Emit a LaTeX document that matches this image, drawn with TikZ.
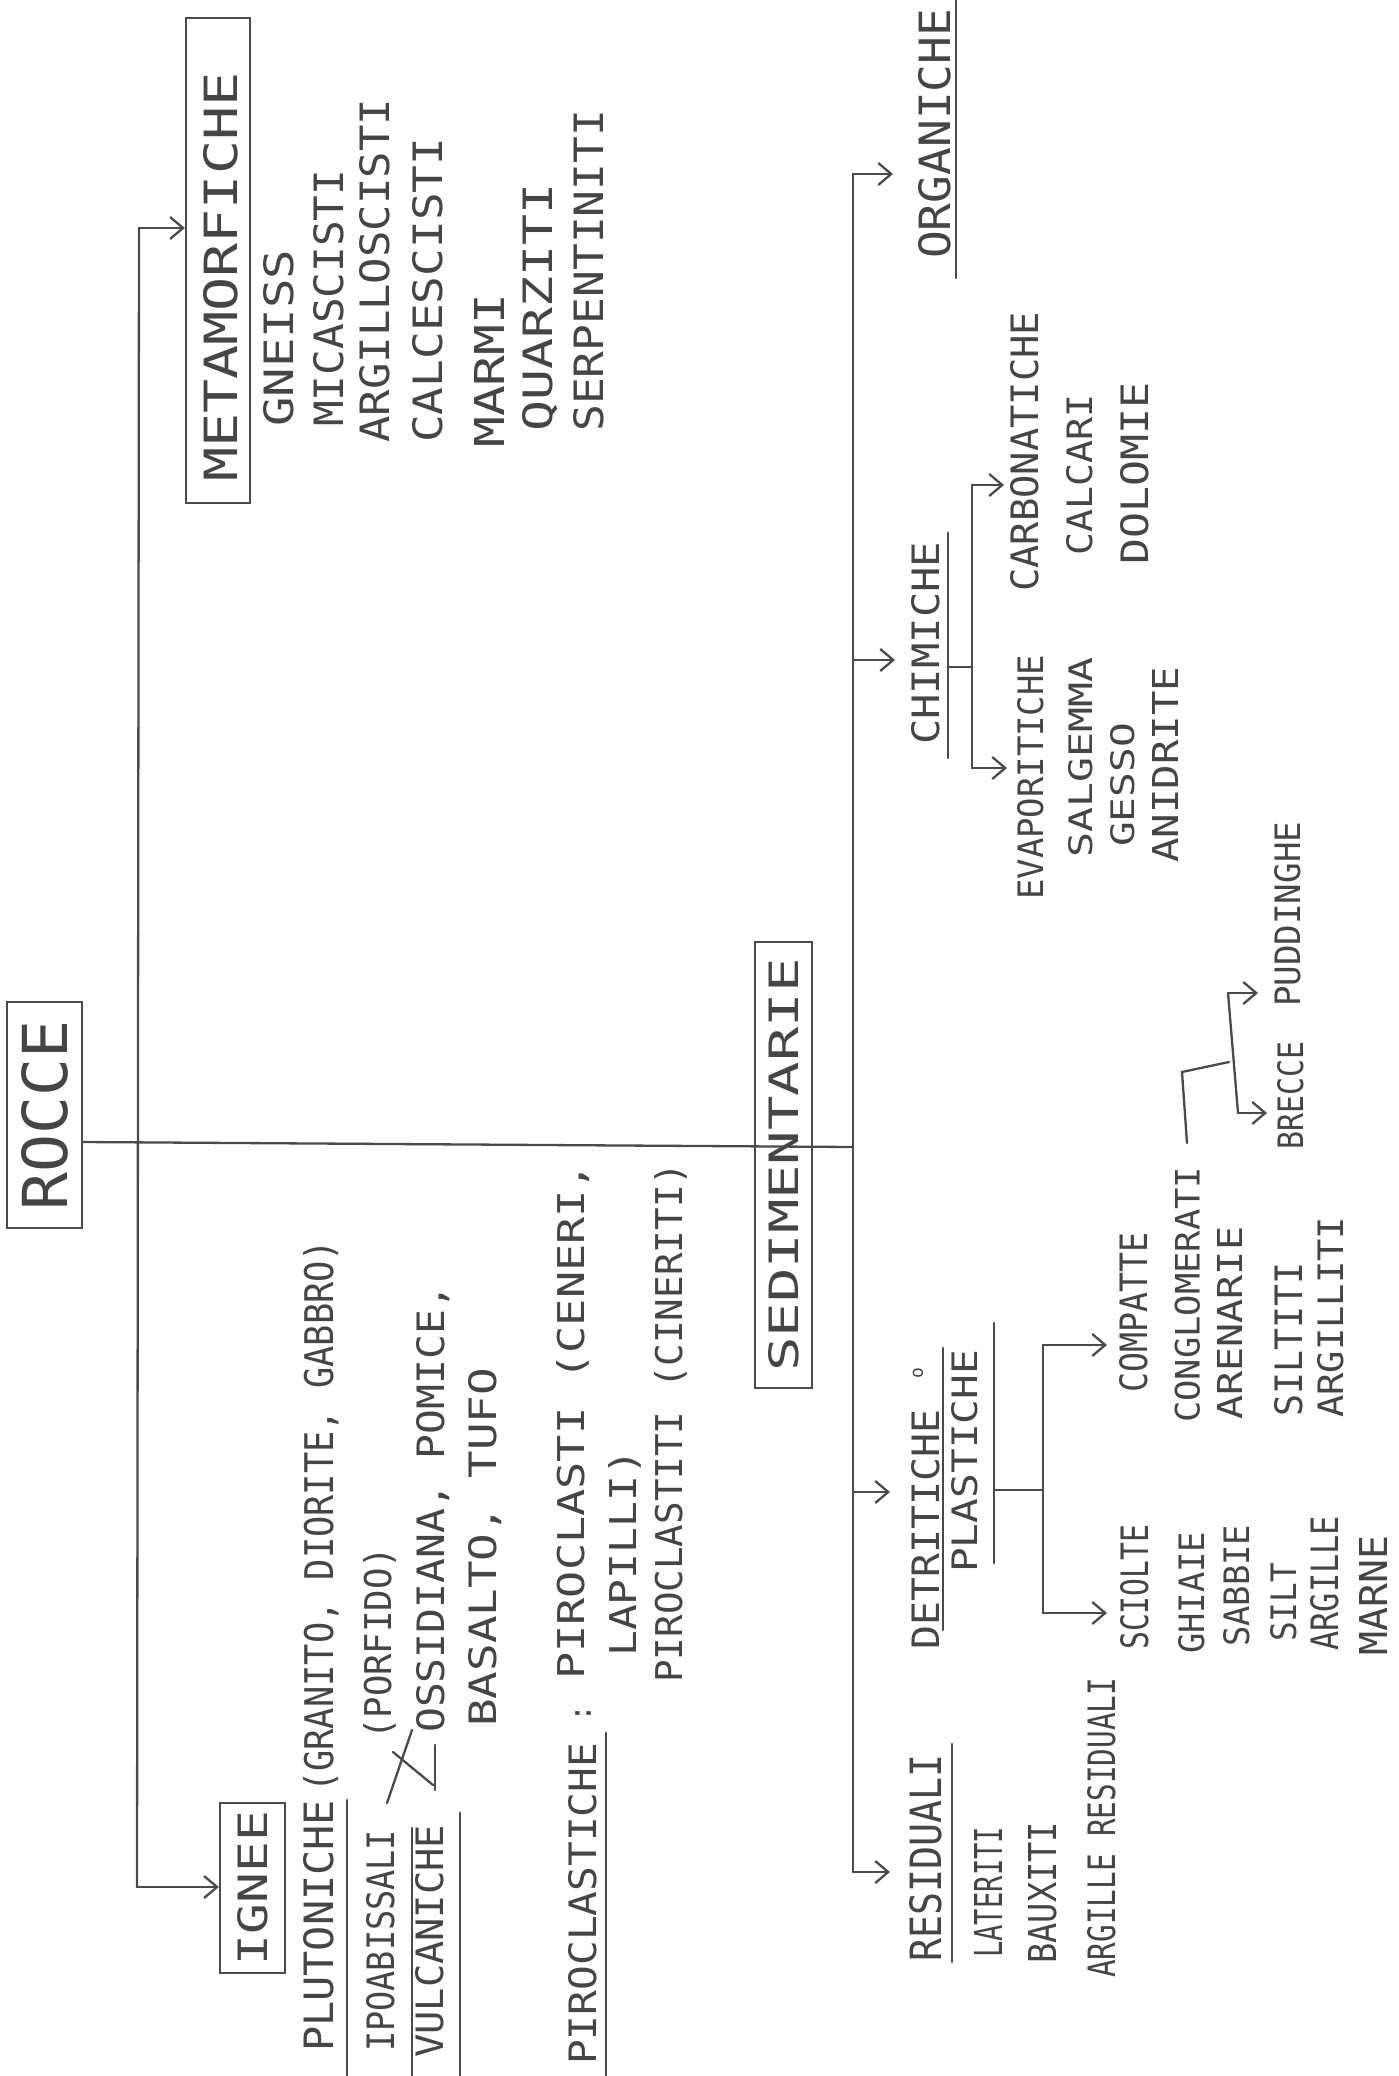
\documentclass[tikz,border=0pt]{standalone}
\usepackage{graphicx}
\usepackage{fontspec}
\setmainfont{DejaVu Sans Mono}
\usetikzlibrary{arrows.meta,calc}
\definecolor{pencil}{HTML}{4A4A4A}
\definecolor{lead}{HTML}{454545}
\newcommand{\hwt}[6]{\node[hw] (#1) at ({#2+#5/2},#3) {\resizebox{#4pt}{#5pt}{#6}};}
\begin{document}
\begin{tikzpicture}[x=1pt,y=-1pt,
 line/.style={draw=pencil,line width=2.3pt,line cap=round},
 arr/.style={line,-{Straight Barb[length=13pt,width=22pt]}},
 hw/.style={rotate=90,anchor=base west,inner sep=0pt,text=lead},
 boxst/.style={draw=pencil,line width=2.3pt,rotate=90,inner sep=0pt,text=lead}]
\useasboundingbox (0,0) rectangle (1399,2076);
\fill[white] (0,0) rectangle (1399,2076);

% ---- boxes
\node[boxst,minimum width=226pt,minimum height=75pt] (rocce) at (44.5,1115) {\resizebox{190pt}{46pt}{ROCCE}};
\node[boxst,minimum width=170pt,minimum height=65pt] (ignee) at (252.5,1888) {\resizebox{154pt}{30pt}{IGNEE}};
\node[boxst,minimum width=446pt,minimum height=57pt] (sedim) at (783.5,1165) {\resizebox{413pt}{30pt}{SEDIMENTARIE}};
\node[boxst,minimum width=485pt,minimum height=64pt] (metabox) at (218,260.5) {};

% ---- metamorfiche
\hwt{meta}{220}{482}{409}{34}{METAMORFICHE}
\hwt{gneiss}{278}{427}{177}{30}{GNEISS}
\hwt{mica}{328}{427}{257}{30}{MICASCISTI}
\hwt{argsc}{374}{443}{344}{30}{ARGILLOSCISTI}
\hwt{calc}{427}{443}{305}{30}{CALCESCISTI}
\hwt{marmi}{489}{448}{154}{30}{MARMI}
\hwt{quarz}{537}{432}{248}{30}{QUARZITI}
\hwt{serp}{588}{432}{322}{30}{SERPENTINITI}

% ---- ignee
\hwt{plut}{318}{2052}{252}{30}{PLUTONICHE}
\hwt{plutex}{318}{1793}{553}{30}{(GRANITO, DIORITE, GABBRO)}
\hwt{ipo}{380}{2052}{222}{28}{IPOABISSALI}
\hwt{porf}{377}{1740}{193}{28}{(PORFIDO)}
\hwt{ossi}{430}{1733}{448}{28}{OSSIDIANA, POMICE,}
\hwt{basa}{482}{1727}{359}{28}{BASALTO, TUFO}
\hwt{vulc}{429}{2058}{233}{28}{VULCANICHE}
\hwt{piro}{582}{2065}{322}{28}{PIROCLASTICHE}
\node[rotate=90,text=lead,inner sep=0pt,font=\fontsize{30}{30}\selectfont] (colon) at (583,1713) {:};
\hwt{pra}{570}{1680}{517}{28}{PIROCLASTI (CENERI,}
\hwt{prb}{622}{1657}{207}{28}{LAPILLI)}
\hwt{prc}{668}{1683}{520}{28}{PIROCLASTITI (CINERITI)}

% ---- sedimentarie
\hwt{org}{934}{259}{250}{32}{ORGANICHE}
\hwt{chim}{925}{745}{203}{28}{CHIMICHE}
\hwt{evap}{1030}{900}{245}{26}{EVAPORITICHE}
\hwt{salg}{1080}{858}{200}{24}{SALGEMMA}
\hwt{gess}{1122}{847}{124}{24}{GESSO}
\hwt{anid}{1165}{863}{196}{26}{ANIDRITE}
\hwt{carb}{1024}{592}{280}{28}{CARBONATICHE}
\hwt{calca}{1079}{556}{161}{26}{CALCARI}
\hwt{dolo}{1134}{565}{182}{28}{DOLOMIE}
\hwt{detr}{925}{1650}{240}{28}{DETRITICHE}
\node[rotate=90,text=lead,inner sep=0pt,font=\fontsize{18}{18}\selectfont] (oconj) at (918,1373) {o};
\hwt{plas}{964}{1573}{223}{26}{PLASTICHE}
\hwt{comp}{1133}{1393}{160}{28}{COMPATTE}
\hwt{cong}{1187}{1423}{256}{25}{CONGLOMERATI}
\hwt{aren}{1230}{1420}{193}{25}{ARENARIE}
\hwt{silti}{1288}{1417}{154}{28}{SILTITI}
\hwt{argti}{1330}{1418}{201}{26}{ARGILLITI}
\hwt{brec}{1290}{1150}{108}{26}{BRECCE}
\hwt{pudd}{1287}{1007}{185}{26}{PUDDINGHE}
\hwt{sciol}{1134}{1650}{125}{28}{SCIOLTE}
\hwt{ghia}{1191}{1654}{122}{26}{GHIAIE}
\hwt{sabb}{1236}{1647}{122}{26}{SABBIE}
\hwt{silt}{1283}{1642}{79}{26}{SILT}
\hwt{argl}{1324}{1651}{135}{28}{ARGILLE}
\hwt{marn}{1373}{1656}{120}{28}{MARNE}
\hwt{resi}{925}{1962}{207}{32}{RESIDUALI}
\hwt{late}{988}{1958}{131}{28}{LATERITI}
\hwt{baux}{1042}{1964}{142}{28}{BAUXITI}
\hwt{argres}{1101}{1978}{300}{28}{ARGILLE RESIDUALI}

% ---- trunk coordinates
\coordinate (vt) at (139,228);
\coordinate (vb) at (137,1887);
\coordinate (vj) at (139,1142);
\coordinate (sj) at (853,1147);
\coordinate (st) at (853,174);
\coordinate (sb) at (853,1872);

% ---- main connectors
\draw[line] (vt) -- (vb);
\draw[arr] (vt) -- (vt -| metabox.north);
\draw[arr] (vb) -- (vb -| ignee.north);
\draw[line] (vj -| rocce.south) -- (sj);
\draw[line] (st) -- (sb);
\draw[arr] (st) -- ++(40,0) coordinate (orgtip);
\draw[arr] (853,660) coordinate (chs) -- (895,660) coordinate (chtip);
\draw[arr] (853,1492) coordinate (dts) -- (890,1492) coordinate (dttip);
\draw[arr] (sb) -- ++(37,0) coordinate (retip);

% ---- underlines
\draw[line] (347,1800) -- (347,2076);
\draw[line] (412,1828) -- (412,2076);
\draw[line] (460,1813) -- (460,2076);
\draw[line] (606,1733) -- (606,2076);
\draw[line] (956,0) -- (956,278);
\draw[line] (948,533) -- (948,758);
\draw[line] (943,1348) -- (943,1630);
\draw[line] (994,1323) -- (994,1563);
\draw[line] (952,1744) -- (952,1962);

% ---- ipoabissali / vulcaniche strokes
\draw[line] (387,1803) -- (412,1730);
\draw[line] (393,1752) -- (433,1785);
\draw[line] (435,1745) -- (435,1790);

% ---- chimiche branches
\draw[line] (948,667) -- (972,667);
\draw[line] (972,485) coordinate (cbt) -- (972,768) coordinate (cbb);
\draw[arr] (cbt) -- (1004,485);
\draw[arr] (cbb) -- (1007,768);

% ---- detritiche branches
\draw[line] (994,1490) -- (1043,1490);
\draw[line] (1043,1345) coordinate (dbt) -- (1043,1613) coordinate (dbb);
\draw[arr] (dbt) -- (1107,1345);
\draw[arr] (dbb) -- (1107,1613);

% ---- conglomerati branches
\draw[line] (1187,1143) -- (1182,1072) -- (1229,1062);
\draw[line] (1228,993) coordinate (pbt) -- (1238,1113) coordinate (pbb);
\draw[arr] (pbt) -- (1258,993);
\draw[arr] (pbb) -- (1267,1113);
\end{tikzpicture}
\end{document}
